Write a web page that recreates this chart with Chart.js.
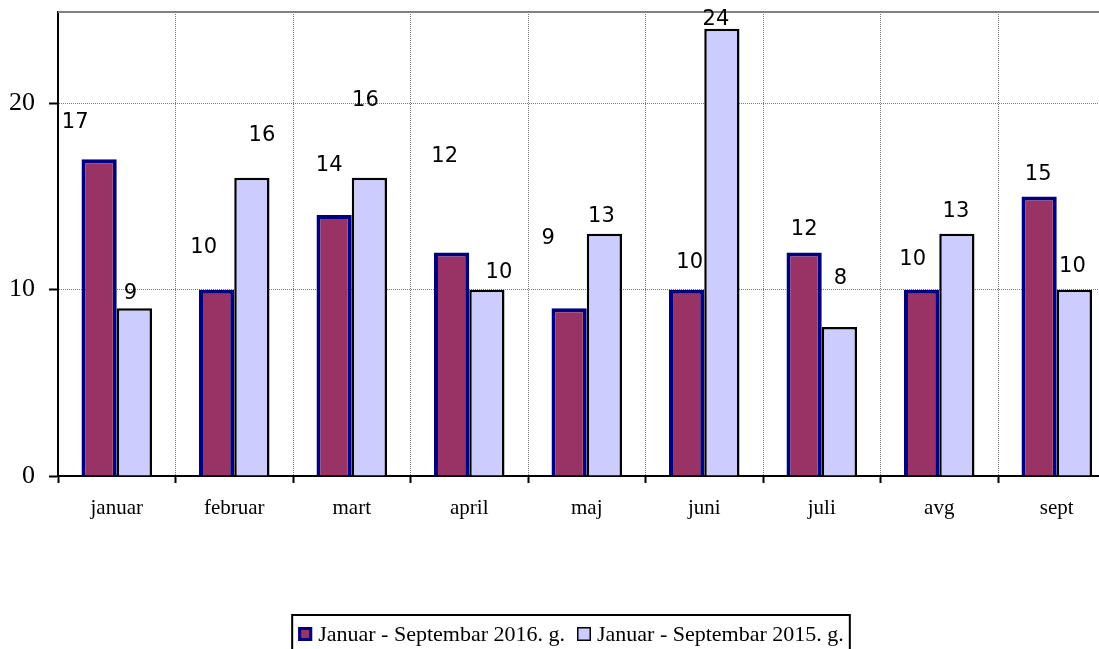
<!DOCTYPE html>
<html>
<head>
<meta charset="utf-8">
<script src="https://cdn.jsdelivr.net/npm/chart.js@4/dist/chart.umd.min.js"></script>
<style>
  html, body { margin: 0; padding: 0; background: #fff; overflow: hidden; }
</style>
</head>
<body>
<canvas id="grafik" width="1130" height="660"></canvas>
<script>
const meseci = ['januar', 'februar', 'mart', 'april', 'maj', 'juni', 'juli', 'avg', 'sept'];
const vrednosti2016 = [17, 10, 14, 12, 9, 10, 12, 10, 15];
const vrednosti2015 = [9, 16, 16, 10, 13, 24, 8, 13, 10];
const yTicks = [0, 10, 20];

// label nudges (px) relative to bar top-centre, as placed in the original
const pomak2016 = { dx: [-24, -13, -5, -7, -21, 3, 0, -9, -1], dy: [-37, -42, -50, -96, -70, -27, -23, -30, -22] };
const pomak2015 = { dx: [-4, 10, -4, 12, -3, -6, 1, -1, -2], dy: [-15, -42, -77, -17, -17, -9, -48, -22, -23] };

const serif = '"Liberation Serif", "Times New Roman", serif';

const okvir = {
  id: 'okvir',
  beforeDatasetsDraw(chart) {
    const { ctx, chartArea: a } = chart;
    ctx.save();
    ctx.strokeStyle = '#808080';
    ctx.lineWidth = 2;
    ctx.beginPath();
    ctx.moveTo(a.left, a.top);
    ctx.lineTo(a.right, a.top);
    ctx.stroke();
    ctx.restore();
  }
};

const oznake = {
  id: 'oznake',
  afterDatasetsDraw(chart) {
    const { ctx } = chart;
    const pomaci = [pomak2016, pomak2015];
    ctx.save();
    ctx.font = '21px "DejaVu Sans", Verdana, sans-serif';
    ctx.fillStyle = '#000';
    ctx.textAlign = 'center';
    ctx.textBaseline = 'middle';
    chart.data.datasets.forEach((ds, i) => {
      chart.getDatasetMeta(i).data.forEach((bar, j) => {
        ctx.fillText(String(ds.data[j]), bar.x + pomaci[i].dx[j], bar.y + pomaci[i].dy[j]);
      });
    });
    ctx.restore();
  }
};

const legenda = {
  id: 'legenda',
  afterDraw(chart) {
    const { ctx } = chart;
    const cx = 571, top = 615, box = 14, gap = 6, razmak = 12;
    ctx.save();
    ctx.font = '22px ' + serif;
    const sets = chart.data.datasets;
    const widths = sets.map(ds => ctx.measureText(ds.label).width);
    let total = 0;
    widths.forEach((w, i) => { total += box + gap + w + (i ? razmak : 0); });
    let x = cx - total / 2;
    ctx.strokeStyle = '#000';
    ctx.lineWidth = 2;
    ctx.strokeRect(x - 6, top, total + 12, 60);
    const yc = top + 19;
    sets.forEach((ds, i) => {
      ctx.fillStyle = ds.backgroundColor;
      ctx.fillRect(x, yc - box / 2, box, box);
      ctx.strokeStyle = ds.borderColor;
      ctx.lineWidth = i === 0 ? 3 : 1.5;
      const inset = ctx.lineWidth / 2;
      ctx.strokeRect(x + inset, yc - box / 2 + inset, box - 2 * inset, box - 2 * inset);
      ctx.fillStyle = '#000';
      ctx.textBaseline = 'middle';
      ctx.fillText(ds.label, x + box + gap, yc + 1);
      x += box + gap + widths[i] + razmak;
    });
    ctx.restore();
  }
};

new Chart(document.getElementById('grafik').getContext('2d'), {
  type: 'bar',
  data: {
    labels: meseci,
    datasets: [
      {
        label: 'Januar - Septembar 2016. g.',
        data: vrednosti2016,
        backgroundColor: '#993366',
        borderColor: '#000080',
        borderWidth: 4
      },
      {
        label: 'Januar - Septembar 2015. g.',
        data: vrednosti2015,
        backgroundColor: '#CCCCFF',
        borderColor: '#000000',
        borderWidth: 2.5
      }
    ]
  },
  options: {
    responsive: false,
    animation: false,
    categoryPercentage: 0.6,
    barPercentage: 1,
    layout: { padding: { top: 12, right: 14.5, left: 0, bottom: 0 } },
    plugins: {
      legend: { display: false },
      tooltip: { enabled: false }
    },
    scales: {
      x: {
        grid: {
          offset: true,
          color: '#7a7a7a',
          tickColor: '#000',
          tickLength: 7,
          tickWidth: 2
        },
        border: { color: '#000', width: 2, dash: [1, 1] },
        ticks: {
          color: '#000',
          padding: 13,
          font: { family: serif, size: 21 }
        },
        afterFit(scale) {
          scale.height = 184;
          scale.paddingLeft = 0;
          scale.paddingRight = 0;
        }
      },
      y: {
        min: 0,
        max: 24.9,
        grid: {
          color: '#7a7a7a',
          tickColor: '#000',
          tickLength: 9,
          tickWidth: 2
        },
        border: { color: '#000', width: 2, dash: [1, 1] },
        ticks: {
          stepSize: 10,
          includeBounds: false,
          color: '#000',
          padding: 14,
          font: { family: serif, size: 26 }
        },
        afterBuildTicks(scale) { scale.ticks = yTicks.map(v => ({ value: v })); },
        afterFit(scale) {
          scale.width = 58;
          scale.paddingTop = 0;
          scale.paddingBottom = 0;
        }
      }
    }
  },
  plugins: [okvir, oznake, legenda]
});
</script>
</body>
</html>
